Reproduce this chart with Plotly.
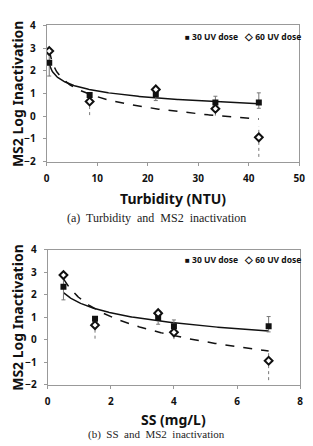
import numpy as np
import plotly.graph_objects as go

# ---- data ----
turbidity = [0.5, 8.5, 21.6, 33.4, 42.0]
ss = [0.5, 1.5, 3.5, 4.0, 7.0]
uv30 = [2.35, 0.93, 0.97, 0.60, 0.60]
uv60 = [2.87, 0.65, 1.18, 0.33, -0.93]
uv30_err_plus = [0.60, 0.10, 0.32, 0.28, 0.43]
uv30_err_minus = [0.58, 0.10, 0.28, 0.30, 0.25]
uv60_err_plus = [0.18, 0.05, 0.10, 0.05, 0.47]
uv60_err_minus = [0.18, 0.60, 0.10, 0.30, 0.86]
series_names = ["30 UV dose", "60 UV dose"]
legend_glyphs = ["■", "◇"]
captions = ["(a)  Turbidity  and  MS2  inactivation", "(b)  SS  and  MS2  inactivation"]
x_titles = ["Turbidity (NTU)", "SS (mg/L)"]
y_title = "MS2 Log Inactivation"

W, H = 313, 446
fig = go.Figure()

def px_x(p):
    return p / W

def px_y(p):
    return 1 - p / H

panels = [
    dict(x=turbidity, xa="x", ya="y", xr=[0, 50], dt=10, left=45, right=305, top=18, bot=159,
         cap_y=217, title_y=197, leg_y=29, cap_size=12),
    dict(x=ss, xa="x2", ya="y2", xr=[0, 8], dt=2, left=46, right=306, top=250, bot=390,
         cap_y=441, title_y=426, leg_y=260, cap_size=11),
]

bold = dict(family="Noto Sans", weight="bold", color="#111")

for i, p in enumerate(panels):
    xs = np.array(p["x"], dtype=float)
    # log trendlines fitted to the data
    xx = np.linspace(xs.min(), xs.max(), 300)
    for ys, dash in ((uv30, "solid"), (uv60, "dash")):
        b, a = np.polyfit(np.log(xs), np.array(ys), 1)
        fig.add_trace(go.Scatter(x=xx, y=a + b * np.log(xx), mode="lines",
                                 line=dict(color="#111", width=1.5, dash=dash),
                                 xaxis=p["xa"], yaxis=p["ya"], showlegend=False, hoverinfo="skip"))
    # dotted error bars for 60 UV
    ex, ey = [], []
    for xv, yv, ep, em in zip(p["x"], uv60, uv60_err_plus, uv60_err_minus):
        ex += [xv, xv, None]
        ey += [yv - em, yv + ep, None]
    fig.add_trace(go.Scatter(x=ex, y=ey, mode="lines", line=dict(color="#777", width=1, dash="dot"),
                             xaxis=p["xa"], yaxis=p["ya"], showlegend=False, hoverinfo="skip"))
    fig.add_trace(go.Scatter(x=p["x"], y=uv30, mode="markers", name=series_names[0],
                             marker=dict(symbol="square", size=6, color="#111"),
                             error_y=dict(type="data", array=uv30_err_plus, arrayminus=uv30_err_minus,
                                          color="#777", thickness=1, width=2),
                             xaxis=p["xa"], yaxis=p["ya"], showlegend=False))
    fig.add_trace(go.Scatter(x=p["x"], y=uv60, mode="markers", name=series_names[1],
                             marker=dict(symbol="diamond", size=6, color="white",
                                         line=dict(color="#111", width=2)),
                             xaxis=p["xa"], yaxis=p["ya"], showlegend=False))

    sfx = "" if i == 0 else "2"
    fig.layout["xaxis" + sfx] = dict(domain=[px_x(p["left"]), px_x(p["right"])], range=p["xr"],
                                     dtick=p["dt"], anchor="y" + sfx, showgrid=False, zeroline=False,
                                     showline=True, linecolor="#999", mirror=True, linewidth=1,
                                     ticks="outside", ticklen=3, tickcolor="#999",
                                     tickfont=dict(size=10, **bold), ticklabelstandoff=4)
    fig.layout["yaxis" + sfx] = dict(domain=[px_y(p["bot"]), px_y(p["top"])], range=[-2, 4],
                                     dtick=1, anchor="x" + sfx, showgrid=False, zeroline=False,
                                     showline=True, linecolor="#999", mirror=True, linewidth=1,
                                     ticks="outside", ticklen=3, tickcolor="#999",
                                     tickfont=dict(size=10, **bold), ticklabelstandoff=5)
    # legend entries (text-based, placed like the original)
    for j, (gx, glyph, gsize) in enumerate(((185, legend_glyphs[0], 8), (246, legend_glyphs[1], 10))):
        fig.add_annotation(x=px_x(gx), y=px_y(p["leg_y"]), xref="paper", yref="paper",
                           text=f"<span style='font-size:{gsize}px'>{glyph}</span> {series_names[j]}",
                           showarrow=False, xanchor="left", yanchor="middle",
                           font=dict(size=8.5, **bold))
    cx = (p["left"] + p["right"]) / 2
    fig.add_annotation(x=px_x(cx), y=px_y(p["title_y"]), xref="paper", yref="paper",
                       text=x_titles[i], showarrow=False, xanchor="center", yanchor="middle",
                       font=dict(size=14, **bold))
    fig.add_annotation(x=px_x(15), y=px_y((p["top"] + p["bot"]) / 2), xref="paper", yref="paper",
                       text=y_title, showarrow=False, textangle=-90, xanchor="center", yanchor="middle",
                       font=dict(size=14, **bold))
    fig.add_annotation(x=px_x(158), y=px_y(p["cap_y"]), xref="paper", yref="paper",
                       text=captions[i].replace("  ", "&nbsp; "), showarrow=False, xanchor="center",
                       yanchor="middle", font=dict(size=p["cap_size"], family="Liberation Serif", color="#222"))

fig.update_layout(width=W, height=H, margin=dict(l=0, r=0, t=0, b=0),
                  paper_bgcolor="white", plot_bgcolor="white")
fig.write_html("out.html")
